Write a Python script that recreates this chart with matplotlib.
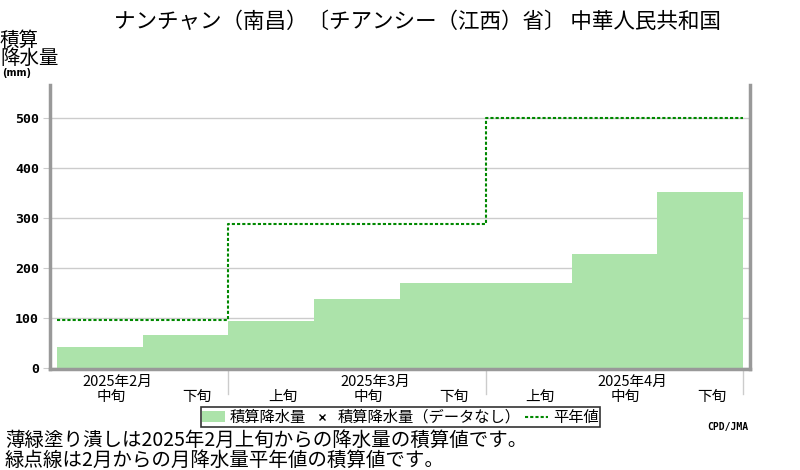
import numpy as np
import matplotlib
matplotlib.use("Agg")
import matplotlib.pyplot as plt
from matplotlib.patches import Patch
from matplotlib.lines import Line2D

plt.rcParams['font.family'] = ['Noto Sans CJK JP', 'DejaVu Sans']

# ------------------------------
# Data
# ------------------------------
dekads = ['中旬', '下旬', '上旬', '中旬', '下旬', '上旬', '中旬', '下旬']
months = ['2025年2月', '2025年3月', '2025年4月']
month_start = [0, 2, 5]          # first dekad index of each month
accum = [43, 67, 95, 139, 171, 171, 229, 352]
normal = [96, 288, 500]           # accumulated monthly normals

title = 'ナンチャン（南昌）〔チアンシー（江西）省〕 中華人民共和国'
notes = ['薄緑塗り潰しは2025年2月上旬からの降水量の積算値です。',
         '緑点線は2月からの月降水量平年値の積算値です。']

bar_color = '#ace3aa'
line_color = '#008800'
spine_color = '#999999'

fig = plt.figure(figsize=(8, 4.7), dpi=100)
ax = fig.add_axes([0.0625, 0.215, 0.875, 0.604])

n = len(accum)
x = np.arange(n)
ax.bar(x + 0.5, accum, width=1.0, color=bar_color, linewidth=0, zorder=2)

# normal step line
xs = month_start + [n]
ys = normal + [normal[-1]]
ax.step(xs, ys, where='post', color=line_color, lw=1.5,
        linestyle=(0, (1.5, 1.0)), zorder=3)

ax.set_xlim(-0.08, n + 0.08)
ax.set_ylim(-1, 566)
ax.set_yticks([0, 100, 200, 300, 400, 500])
ax.set_yticklabels(['0', '100', '200', '300', '400', '500'],
                   family='DejaVu Sans Mono', fontweight='bold', fontsize=9.5)
ax.yaxis.grid(True, color='#cccccc', lw=1, zorder=0)
ax.tick_params(axis='y', length=5, color='#cccccc', pad=3)
ax.set_xticks([])

for s in ['left', 'right', 'bottom']:
    ax.spines[s].set_color(spine_color)
    ax.spines[s].set_linewidth(2.5)
ax.spines['top'].set_visible(False)

# x labels: dekads, months and separators
for i, lab in enumerate(dekads):
    ax.text(i + 0.63, -0.1, lab, transform=ax.get_xaxis_transform(),
            ha='center', va='center', fontsize=10.5)
for m, lab in zip(month_start, months):
    mid = m + 1 if m > 0 else m
    ax.text(mid + 0.71, -0.045, lab, transform=ax.get_xaxis_transform(),
            ha='center', va='center', fontsize=10.5)
for xb in month_start[1:] + [n]:
    ax.plot([xb, xb], [0, -0.09], transform=ax.get_xaxis_transform(),
            color='#cccccc', lw=1, clip_on=False)

fig.text(0.522, 0.953, title, ha='center', va='center', fontsize=15.5)
fig.text(0.0, 0.895, '積算\n降水量', ha='left', va='center',
         fontsize=14, linespacing=0.8)
fig.text(0.003, 0.845, '(mm)', ha='left', va='center', fontsize=7,
         fontweight='bold', family='DejaVu Sans')

handles = [Patch(facecolor=bar_color, edgecolor='none'),
           Line2D([], [], marker='x', color='black', lw=0, markersize=5),
           Line2D([], [], color=line_color, lw=1.5, linestyle=(0, (1.5, 1.0)))]
leg = fig.legend(handles, ['積算降水量', '積算降水量（データなし）', '平年値'],
                 loc='center', bbox_to_anchor=(0.5005, 0.112), ncol=3,
                 fontsize=11, frameon=True, fancybox=False, borderpad=0.1,
                 handlelength=1.5, handletextpad=0.3, columnspacing=0.3,
                 borderaxespad=0)
leg.get_frame().set_edgecolor('black')
leg.get_frame().set_linewidth(1.2)

fig.text(0.935, 0.091, 'CPD/JMA', ha='right', va='center', fontsize=7,
         fontweight='bold', family='DejaVu Sans Mono')
fig.text(0.006, 0.062, notes[0], ha='left', va='center', fontsize=14)
fig.text(0.006, 0.02, notes[1], ha='left', va='center', fontsize=14)

fig.savefig('out.png', dpi=100)
